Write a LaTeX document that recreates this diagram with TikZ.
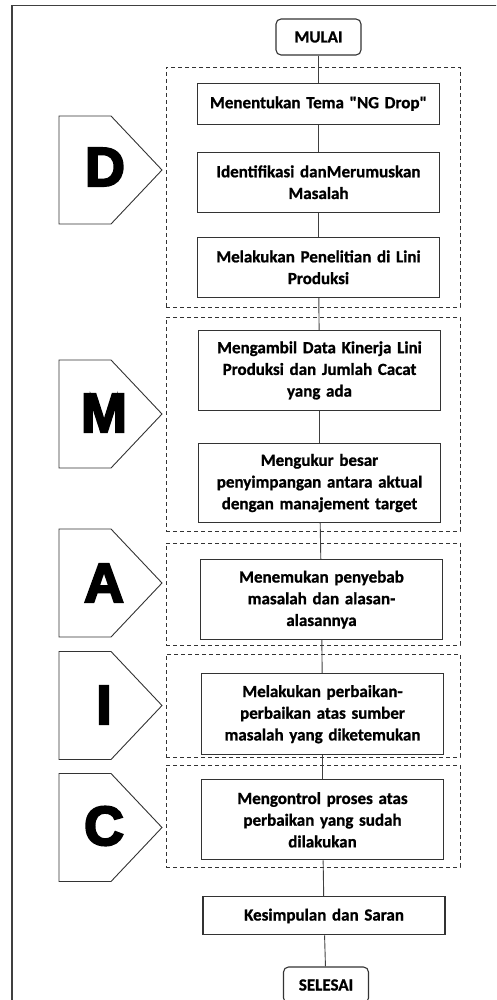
\documentclass[tikz,border=0pt]{standalone}
\usepackage{fontspec}
\setmainfont{Carlito}[BoldFeatures={FakeBold=1}]
\newfontfamily\phasefont{Liberation Sans Bold}[FakeBold=4]
\usetikzlibrary{positioning}

\begin{document}
\begin{tikzpicture}[x=1pt,y=1pt,semithick,node distance=27pt]
	\tikzstyle{every node}=[font=\bfseries\fontsize{17}{21.7}\selectfont]
	\tikzstyle{taskbox}=[draw=black!80,line width=1.1pt,minimum width=242pt,text width=238pt,align=center,inner sep=0pt]
	\tikzstyle{terminal}=[draw=black!80,line width=1.1pt,rounded corners=5pt,minimum width=85pt,minimum height=36pt,inner sep=0pt]
	\tikzstyle{phase}=[draw=black!80,line width=0.9pt,dash pattern=on 4pt off 3pt,minimum width=294pt,inner sep=0pt]
	\tikzstyle{tag}=[draw=black!80,line width=0.9pt,line join=miter]
	\tikzstyle{letter}=[inner sep=0pt,font=\phasefont\fontsize{55}{55}\selectfont]
	
	\useasboundingbox (0,0) rectangle (496,-1000);
	\clip (0,0) rectangle (496,-1000);
	\draw[line width=1.2pt,black!75] (12,-5.5) rectangle (530,-1030);
	
	% dashed frames of the phases
	\node[phase,minimum height=240pt] (F_D) at (313,-187)   {};
	\node[phase,minimum height=214pt] (F_M) at (313,-424)   {};
	\node[phase,minimum height=102pt] (F_A) at (313,-594)   {};
	\node[phase,minimum height=103pt] (F_I) at (313,-705.5) {};
	\node[phase,minimum height=102pt] (F_C) at (313,-816)   {};
	
	% DMAIC tags
	\foreach \y in {170,414,583,705.5,827.5}
	\draw[tag] (59,-\y+54) -- (111,-\y+54) -- (162,-\y) -- (111,-\y-54) -- (59,-\y-54) -- cycle;
	\node[letter] (L_D) at (105,-167)   {D};
	\node[letter] (L_M) at (104,-413)   {M};
	\node[letter] (L_A) at (104,-583)   {A};
	\node[letter] (L_I) at (104,-705)   {I};
	\node[letter] (L_C) at (104,-826)   {C};
	
	\node[terminal]                   (S_0) at (318.5,-37)              {MULAI};
	\node[taskbox,minimum height=41pt] (S_1) [below=of S_0]              {Menentukan Tema \textquotedbl NG Drop\textquotedbl};
	\node[taskbox,minimum height=60pt] (S_2) [below=of S_1]              {Identifikasi danMerumuskan\\Masalah};
	\node[taskbox,minimum height=60pt] (S_3) [below=24pt of S_2]         {Melakukan Penelitian di Lini\\Produksi};
	\node[taskbox,minimum height=80pt] (S_4) [below=32pt of S_3,xshift=1pt] {Mengambil Data Kinerja Lini\\Produksi dan Jumlah Cacat\\yang ada};
	\node[taskbox,minimum height=79pt] (S_5) [below=32pt of S_4]         {Mengukur besar\\penyimpangan antara aktual\\dengan manajement target};
	\node[taskbox,minimum height=80pt] (S_6) [below=36pt of S_5,xshift=2pt] {Menemukan penyebab\\masalah dan alasan-\\alasannya};
	\node[taskbox,minimum height=81pt] (S_7) [below=33pt of S_6,xshift=1pt] {Melakukan perbaikan-\\perbaikan atas sumber\\masalah yang diketemukan};
	\node[taskbox,minimum height=80pt] (S_8) [below=24pt of S_7]         {Mengontrol proses atas\\perbaikan yang sudah\\dilakukan};
	\node[taskbox,minimum height=38pt] (S_9) [below=36pt of S_8,xshift=1.5pt] {Kesimpulan dan Saran};
	\node[terminal]                   (S_10) [below=31pt of S_9,xshift=2pt] {SELESAI};
	
	\draw[line width=0.9pt,black!75] (S_0) edge (S_1)
	(S_1) edge (S_2)
	(S_2) edge (S_3)
	(S_3) edge (S_4)
	(S_4) edge (S_5)
	(S_5) edge (S_6)
	(S_6) edge (S_7)
	(S_7) edge (S_8)
	(S_8) edge (S_9)
	(S_9) edge (S_10);
\end{tikzpicture}
\end{document}
